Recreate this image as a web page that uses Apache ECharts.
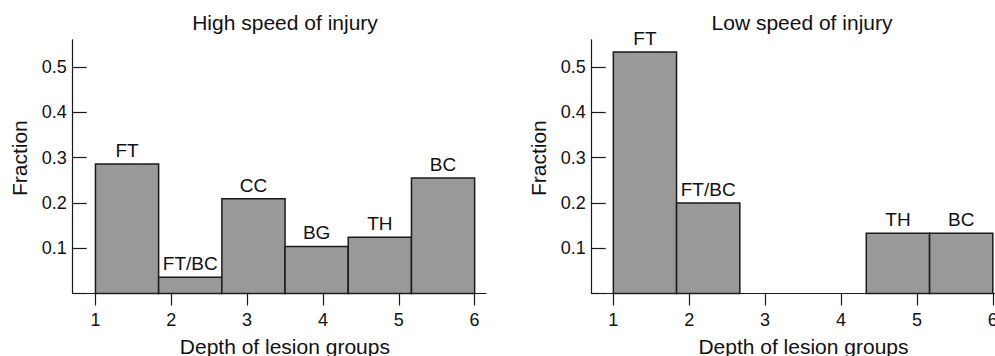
<!DOCTYPE html>
<html>
<head>
<meta charset="utf-8">
<script src="https://cdn.jsdelivr.net/npm/echarts/dist/echarts.min.js"></script>
<style>
html,body{margin:0;padding:0;background:#fff;}
#chart{width:995px;height:356px;}
</style>
</head>
<body>
<div id="chart"></div>
<script>
// ---- data ----
const binEdges = [1, 1.833, 2.667, 3.5, 4.333, 5.167, 6];
const highValues = [0.286, 0.036, 0.209, 0.104, 0.124, 0.255];
const highLabels = ['FT', 'FT/BC', 'CC', 'BG', 'TH', 'BC'];
const lowValues = [0.533, 0.2, 0, 0, 0.133, 0.133];
const lowLabels = ['FT', 'FT/BC', '', '', 'TH', 'BC'];
const xTickValues = [1, 2, 3, 4, 5, 6];
const yTickValues = [0.1, 0.2, 0.3, 0.4, 0.5];
const titles = ['High speed of injury', 'Low speed of injury'];
const xName = 'Depth of lesion groups';
const yName = 'Fraction';

const FONT = 'Liberation Sans, Arial, Helvetica, sans-serif';
const INK = '#1a1a1a';

function toRows(values) {
  return values.map((v, i) => [binEdges[i], binEdges[i + 1], v]);
}

function makeRender(labels) {
  return function (params, api) {
    const x0 = api.value(0), x1 = api.value(1), v = api.value(2);
    const pTop = api.coord([x0, v]);
    const pBot = api.coord([x1, 0]);
    const children = [];
    if (v > 0) {
      children.push({
        type: 'rect',
        shape: { x: pTop[0], y: pTop[1], width: pBot[0] - pTop[0], height: pBot[1] - pTop[1] },
        style: { fill: '#999999', stroke: INK, lineWidth: 1.5 }
      });
    }
    const lab = labels[params.dataIndex];
    if (lab) {
      children.push({
        type: 'text',
        x: (pTop[0] + pBot[0]) / 2,
        y: pTop[1] - 4,
        style: { text: lab, fill: '#111', font: '19px ' + FONT, align: 'center', verticalAlign: 'bottom' }
      });
    }
    return { type: 'group', children };
  };
}

function xAxisCfg(gi, min) {
  return {
    type: 'value', gridIndex: gi, min: min, max: 6.15,
    axisLine: { show: true, lineStyle: { color: INK, width: 1.2 } },
    axisTick: { show: true, inside: false, length: 12, customValues: xTickValues, lineStyle: { color: INK, width: 1.2 } },
    axisLabel: { customValues: xTickValues, fontSize: 18, fontFamily: FONT, color: '#111', margin: 17 },
    splitLine: { show: false },
    name: xName, nameLocation: 'middle', nameGap: 42,
    nameTextStyle: { fontSize: 21, fontFamily: FONT, color: '#111', padding: [0, 0, 0, 11] }
  };
}

function yAxisCfg(gi) {
  return {
    type: 'value', gridIndex: gi, min: 0, max: 0.56,
    axisLine: { show: true, lineStyle: { color: INK, width: 1.2 } },
    axisTick: { show: true, inside: true, length: 14, customValues: [0].concat(yTickValues), lineStyle: { color: INK, width: 1.2 } },
    axisLabel: { customValues: yTickValues, fontSize: 18, fontFamily: FONT, color: '#111', margin: 6,
      formatter: v => v.toFixed(1) },
    splitLine: { show: false },
    name: yName, nameLocation: 'middle', nameGap: 43, nameRotate: 90,
    nameTextStyle: { fontSize: 21, fontFamily: FONT, color: '#111', padding: [0, 0, 0, 17] }
  };
}

const chart = echarts.init(document.getElementById('chart'), null, { renderer: 'svg' });
chart.setOption({
  animation: false,
  backgroundColor: '#fff',
  title: [
    { text: titles[0], left: 285, top: 12, padding: 0, textAlign: 'center',
      textStyle: { fontSize: 21, fontWeight: 'normal', fontFamily: FONT, color: '#111' } },
    { text: titles[1], left: 802, top: 12, padding: 0, textAlign: 'center',
      textStyle: { fontSize: 21, fontWeight: 'normal', fontFamily: FONT, color: '#111' } }
  ],
  grid: [
    { left: 72.7, top: 39.8, width: 413.3, height: 253.7, outerBoundsMode: 'none', containLabel: false },
    { left: 591.7, top: 39.8, width: 412.5, height: 253.7, outerBoundsMode: 'none', containLabel: false }
  ],
  xAxis: [xAxisCfg(0, 0.7), xAxisCfg(1, 0.715)],
  yAxis: [yAxisCfg(0), yAxisCfg(1)],
  series: [
    { type: 'custom', xAxisIndex: 0, yAxisIndex: 0, data: toRows(highValues), renderItem: makeRender(highLabels), encode: { x: [0, 1], y: 2 } },
    { type: 'custom', xAxisIndex: 1, yAxisIndex: 1, data: toRows(lowValues), renderItem: makeRender(lowLabels), encode: { x: [0, 1], y: 2 } }
  ]
});
</script>
</body>
</html>
